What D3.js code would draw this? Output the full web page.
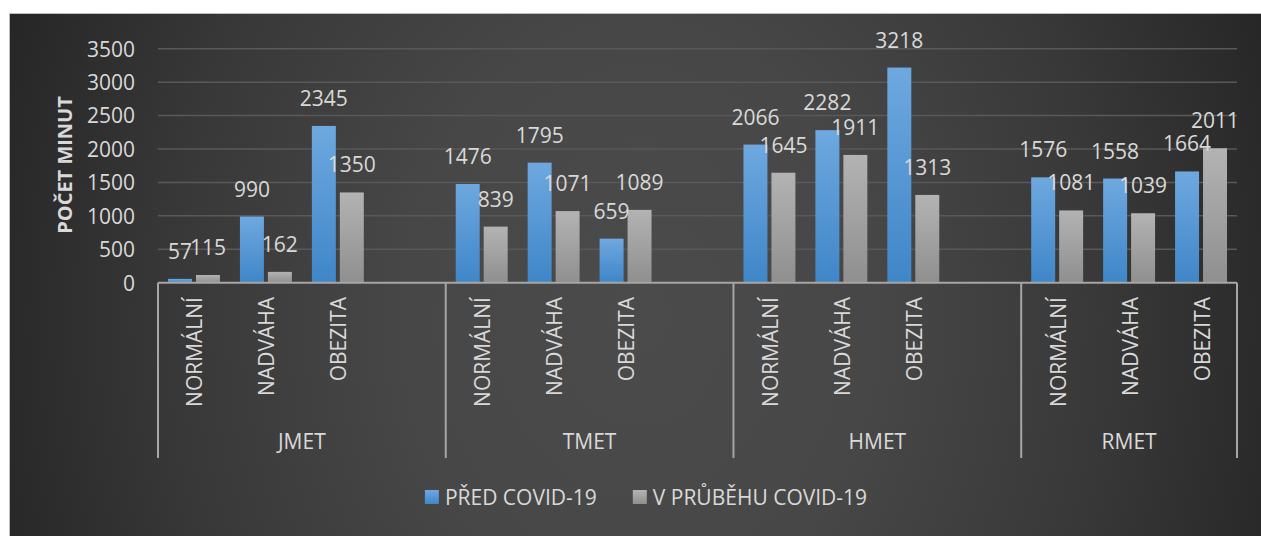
<!DOCTYPE html>
<html><head><meta charset="utf-8">
<script src="https://cdn.jsdelivr.net/npm/d3@7"></script>
<style>html,body{margin:0;padding:0;background:#fff;} svg{display:block;}</style>
</head><body><svg id="chart" width="1261" height="536"></svg>
<script>
// ---- data ----
const groups = ["JMET", "TMET", "HMET", "RMET"];
const subcategories = ["NORMÁLNÍ", "NADVÁHA", "OBEZITA"];
const seriesNames = ["PŘED COVID-19", "V PRŮBĚHU COVID-19"];
const predCovid  = [57, 990, 2345, 1476, 1795, 659, 2066, 2282, 3218, 1576, 1558, 1664];
const behemCovid = [115, 162, 1350, 839, 1071, 1089, 1645, 1911, 1313, 1081, 1039, 2011];
const yTicks = [0, 500, 1000, 1500, 2000, 2500, 3000, 3500];
const yTitle = "POČET MINUT";

// ---- layout ----
const FONT = "'Open Sans', 'Noto Sans', sans-serif";
const TXT = "#d9d9d9";
const plot = {left: 158, right: 1237, top: 48.7, bottom: 282.7};

// slots: each group has its 3 categories plus a blank slot (except the last group)
const slots = [];
groups.forEach((g, gi) => {
  subcategories.forEach((s, si) => slots.push({id: slots.length, group: gi, label: s, idx: gi * 3 + si}));
  if (gi < groups.length - 1) slots.push({id: slots.length, group: gi, label: "", idx: null});
});

const svg = d3.select("#chart");
const defs = svg.append("defs");

const bg = defs.append("radialGradient").attr("id", "bg")
  .attr("gradientUnits", "userSpaceOnUse").attr("cx", 640).attr("cy", 320).attr("r", 780)
  .attr("gradientTransform", "translate(640,320) scale(1,1.25) translate(-640,-320)");
bg.append("stop").attr("offset", 0).attr("stop-color", "#4b4b4b");
bg.append("stop").attr("offset", 0.3).attr("stop-color", "#474747");
bg.append("stop").attr("offset", 0.6).attr("stop-color", "#383838");
bg.append("stop").attr("offset", 1).attr("stop-color", "#1d1d1d");

function vgrad(id, top, bottom) {
  const g = defs.append("linearGradient").attr("id", id).attr("x1", 0).attr("y1", 0).attr("x2", 0).attr("y2", 1);
  g.append("stop").attr("offset", 0).attr("stop-color", top);
  g.append("stop").attr("offset", 1).attr("stop-color", bottom);
}
vgrad("gBlue", "#6ea8df", "#3f86c8");
vgrad("gGray", "#b3b3b3", "#8f8f8f");
const fills = ["url(#gBlue)", "url(#gGray)"];

// background
svg.append("rect").attr("x", 9.5).attr("y", 13.5).attr("width", 1252).attr("height", 523)
  .attr("fill", "url(#bg)").attr("stroke", "#bdbdbd").attr("stroke-width", 1);

const y = d3.scaleLinear().domain([0, 3500]).range([plot.bottom, plot.top]);
const x = d3.scaleBand().domain(slots.map(d => d.id)).range([plot.left, plot.right]).padding(0);
const xs = d3.scaleBand().domain([0, 1]).range([10, x.bandwidth() - 10]).paddingInner(0.1429).paddingOuter(0);

// gridlines
svg.append("g").selectAll("line").data(yTicks.filter(t => t > 0)).join("line")
  .attr("x1", plot.left).attr("x2", plot.right)
  .attr("y1", d => y(d)).attr("y2", d => y(d))
  .attr("stroke", "#595959").attr("stroke-width", 1.5);

// y axis labels
const yAxis = d3.axisLeft(y).tickValues(yTicks).tickFormat(d3.format("d")).tickSize(0).tickPadding(0);
const ya = svg.append("g").attr("transform", `translate(135,0)`).call(yAxis);
ya.select(".domain").remove();
ya.selectAll("text").attr("fill", TXT).style("font-family", FONT).style("font-size", "21px").attr("dy", "0.35em");

// y title
svg.append("text").attr("transform", "translate(72,165) rotate(-90)")
  .attr("text-anchor", "middle").attr("fill", TXT)
  .style("font-family", FONT).style("font-size", "20px").style("font-weight", "bold")
  .text(yTitle);

// bars
const series = [predCovid, behemCovid];
const dataSlots = slots.filter(s => s.idx !== null);
series.forEach((vals, si) => {
  svg.append("g").selectAll("rect").data(dataSlots).join("rect")
    .attr("x", d => x(d.id) + xs(si))
    .attr("width", xs.bandwidth())
    .attr("y", d => y(vals[d.idx]))
    .attr("height", d => y(0) - y(vals[d.idx]))
    .attr("fill", fills[si]);
});

// category axis line and group dividers
svg.append("line").attr("x1", plot.left).attr("x2", plot.right).attr("y1", y(0)).attr("y2", y(0))
  .attr("stroke", "#a6a6a6").attr("stroke-width", 2);
const dividers = [plot.left];
groups.forEach((g, gi) => {
  const gs = slots.filter(s => s.group === gi);
  dividers.push(x(gs[gs.length - 1].id) + x.bandwidth());
});
svg.append("g").selectAll("line").data(dividers).join("line")
  .attr("x1", d => d).attr("x2", d => d).attr("y1", y(0)).attr("y2", 458)
  .attr("stroke", "#a6a6a6").attr("stroke-width", 2);

// data labels
series.forEach((vals, si) => {
  svg.append("g").selectAll("text").data(dataSlots).join("text")
    .attr("x", d => x(d.id) + xs(si) + xs.bandwidth() / 2)
    .attr("y", d => y(vals[d.idx]) - 20)
    .attr("text-anchor", "middle").attr("fill", TXT)
    .style("font-family", FONT).style("font-size", "21px")
    .text(d => vals[d.idx]);
});

// category labels (rotated)
svg.append("g").selectAll("text").data(dataSlots).join("text")
  .attr("transform", d => `translate(${x(d.id) + x.bandwidth() / 2},297) rotate(-90)`)
  .attr("text-anchor", "end").attr("dy", 8.5).attr("fill", TXT)
  .style("font-family", FONT).style("font-size", "21px")
  .text(d => d.label);

// group labels
svg.append("g").selectAll("text").data(groups).join("text")
  .attr("x", (g, gi) => (dividers[gi] + dividers[gi + 1]) / 2)
  .attr("y", 449).attr("text-anchor", "middle").attr("fill", TXT)
  .style("font-family", FONT).style("font-size", "21px")
  .text(d => d);

// legend
const leg = svg.append("g");
const items = leg.selectAll("g").data(seriesNames).join("g");
items.append("rect").attr("width", 14).attr("height", 14).attr("y", -7)
  .attr("fill", (d, i) => fills[i]);
items.append("text").attr("x", 20).attr("dy", "0.36em").attr("fill", TXT)
  .style("font-family", FONT).style("font-size", "21px").text(d => d);
let cx = 0;
const offs = [];
items.each(function () {
  offs.push(cx);
  cx += 20 + this.querySelector("text").getComputedTextLength() + 36;
});
const total = cx - 36;
items.attr("transform", (d, i) => `translate(${646 - total / 2 + offs[i]},497)`);
</script></body></html>
